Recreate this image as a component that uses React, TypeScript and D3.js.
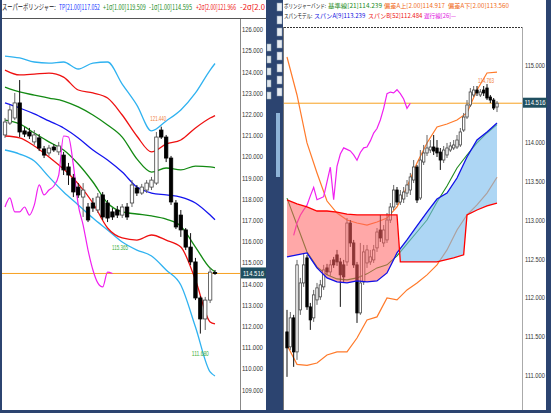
import React from 'react';
import * as d3 from 'd3';

const W = 551;
const H = 413;
const LAST_PRICE = 114.516;

// ---------- left chart: super bollinger ----------
const leftOpen = [121.05,121.61,121.85,122.56,121.24,121.19,120.72,120.91,120.39,120.20,120.48,120.25,120.10,119.54,119.02,118.59,118.12,117.65,117.84,117.51,118.22,117.84,117.42,117.51,117.27,117.65,117.84,118.55,118.31,118.45,118.59,118.78,121.28,120.95,119.96,117.84,117.27,116.57,115.76,115.06,113.36,112.37,113.26,114.56];
const leftHigh = [121.85,122.46,123.03,123.64,121.42,121.38,121.28,121.09,120.53,120.58,120.62,120.72,120.25,119.73,119.21,118.78,118.78,117.84,118.08,118.31,118.36,117.98,117.60,117.70,117.79,117.84,118.92,118.69,118.74,118.92,119.07,121.19,121.44,121.05,120.06,117.98,117.51,116.66,116.42,115.25,113.45,113.41,114.77,114.68];
const leftLow = [120.91,121.52,121.75,120.95,120.95,120.86,120.58,120.29,119.96,120.06,120.25,120.10,119.16,118.69,118.12,118.08,117.18,116.94,117.42,117.37,117.04,116.94,117.04,117.13,117.13,117.04,117.65,118.17,118.22,118.31,118.45,118.69,120.86,119.77,117.75,116.61,116.24,115.62,114.91,113.26,111.68,111.85,113.12,114.45];
const leftClose = [121.66,122.23,122.56,121.19,121.09,121.00,121.05,120.43,120.10,120.43,120.34,120.53,119.40,119.16,118.36,118.22,118.45,117.04,117.60,118.12,117.18,117.13,117.18,117.27,117.65,117.18,118.69,118.31,118.59,118.78,118.92,120.95,120.95,119.96,117.89,116.71,116.57,115.76,115.06,113.36,112.37,113.26,114.58,114.516];

const leftBandBars = [0,3,6,9,12,15,18,21,24,27,30,33,36,39,42,43];
const leftPlus3 = [124.77,124.68,124.49,124.44,124.49,124.16,124.44,124.49,123.45,122.46,121.24,121.71,122.23,123.03,124.11,124.42];
const leftPlus2 = [124.11,123.88,123.92,123.97,123.78,123.17,123.03,122.79,121.99,121.00,120.25,120.62,120.81,121.38,121.85,121.966];
const leftPlus1 = [123.31,123.08,122.93,122.79,122.65,122.37,121.99,121.52,120.95,119.92,119.30,119.49,119.40,119.58,119.54,119.509];
const leftMid = [122.56,122.32,122.04,121.71,121.38,120.91,120.34,119.87,119.30,118.59,118.31,118.22,118.12,117.84,117.27,117.052];
const leftMinus1 = [121.75,121.57,121.14,120.72,120.34,119.68,118.83,117.84,117.42,117.32,117.23,117.08,116.75,115.76,114.77,114.595];
const leftMinus2 = [121.00,120.91,120.53,120.01,119.44,118.74,117.84,116.66,116.19,116.09,116.33,116.09,115.76,114.21,112.23,112.138];
const leftMinus3 = [120.34,120.15,119.82,119.07,118.36,117.75,117.13,116.57,116.00,115.62,115.34,114.68,113.97,111.99,109.87,109.681];

// lagging line, one value per bar from bar 0
const leftLagging = [117.65,118.08,117.42,117.42,117.65,117.27,117.75,118.69,118.22,118.45,118.64,119.16,121.00,120.95,119.63,117.75,116.80,115.62,114.68,114.07,113.88,114.58,114.516];

const leftTicks = d3.range(109, 126.5, 1);

// ---------- right chart: bollinger + span model ----------
const rightOpen = [111.565,111.372,111.746,111.307,111.849,112.197,112.520,111.888,111.746,111.978,112.017,112.146,112.391,112.339,112.494,112.559,112.468,112.430,112.468,112.970,112.713,112.430,111.810,112.210,112.455,112.468,112.494,112.649,112.880,112.713,112.752,113.009,113.177,113.396,113.241,113.280,113.357,113.396,113.525,113.693,113.293,113.757,113.874,113.912,113.951,113.938,113.886,113.783,113.848,113.912,113.938,113.951,113.977,114.170,114.338,114.493,114.622,114.686,114.622,114.686,114.712,114.596,114.557,114.467];
const rightHigh = [111.849,111.822,111.785,112.494,112.262,112.584,112.559,111.939,112.107,112.197,112.236,112.430,112.443,112.494,112.533,112.623,112.520,112.494,113.035,113.009,112.752,112.468,112.713,112.687,112.687,112.623,112.687,112.906,113.074,112.944,113.099,113.228,113.461,113.435,113.396,113.435,113.525,113.616,113.783,113.719,113.912,113.977,114.106,114.041,114.106,114.041,113.938,113.964,114.003,114.015,114.041,114.106,114.196,114.390,114.557,114.712,114.738,114.738,114.699,114.738,114.763,114.622,114.583,114.544];
const rightLow = [110.985,111.333,111.114,111.204,111.785,112.146,111.849,111.591,111.694,111.914,111.978,112.107,112.301,112.288,112.391,112.417,111.888,112.210,112.417,112.662,112.391,111.681,111.785,112.172,112.391,112.430,112.455,112.597,112.726,112.662,112.713,112.970,113.138,113.203,113.203,113.228,113.306,113.332,113.486,113.228,113.267,113.719,113.835,113.874,113.848,113.822,113.655,113.745,113.809,113.886,113.912,113.925,113.951,114.145,114.312,114.467,114.596,114.609,114.596,114.609,114.557,114.518,114.428,114.402];
const rightClose = [111.359,111.746,111.307,112.430,112.197,112.430,111.888,111.720,112.043,112.133,112.172,112.365,112.339,112.430,112.430,112.468,112.301,112.275,112.970,112.713,112.430,111.810,112.197,112.597,112.623,112.533,112.623,112.854,112.777,112.880,113.009,113.177,113.396,113.241,113.332,113.370,113.461,113.564,113.693,113.267,113.783,113.874,113.938,113.951,113.899,113.874,113.783,113.912,113.938,113.964,113.977,114.041,114.145,114.338,114.493,114.661,114.686,114.648,114.661,114.648,114.583,114.557,114.454,114.516];

const rightLineBars = [0,3,6,9,12,15,18,21,24,27,30,33,36,39,42,45,48,51,54,57,60,63];
const rightUpper = [115.112,114.622,114.003,113.616,113.254,113.099,113.009,112.970,112.944,112.983,113.035,113.177,113.435,113.745,114.003,114.209,114.248,114.299,114.390,114.686,114.906,114.917];
const rightLower = [111.396,111.146,111.133,111.164,111.267,111.307,111.307,111.486,111.720,111.759,112.004,111.978,112.107,112.197,112.301,112.430,112.623,112.880,113.074,113.203,113.357,113.560];
const rightBase = [113.291,112.944,112.597,112.404,112.301,112.249,112.236,112.262,112.314,112.391,112.430,112.546,112.700,112.854,113.009,113.241,113.448,113.680,113.848,114.003,114.132,114.239];
const spanA = [112.532,112.559,112.584,112.391,112.262,112.210,112.197,112.223,112.210,112.223,112.326,112.584,112.752,112.932,113.112,113.280,113.357,113.551,113.822,114.041,114.145,114.261];
const spanBBars = [0,3,6,9,12,15,18,21,24,27,30,33,34,40,45,50,53,54,57,60,63];
const spanB = [113.268,113.216,113.177,113.125,113.125,113.112,113.086,113.074,113.074,113.074,113.074,113.074,112.468,112.468,112.468,112.520,112.559,113.074,113.138,113.190,113.228];

// lagging span, bars 2..37
const rightLagStart = 2;
const rightLagging = [112.81,112.97,113.07,113.14,113.20,113.32,113.43,113.27,113.29,113.31,113.50,113.69,113.27,113.70,113.86,113.94,113.92,113.90,113.85,113.78,113.88,113.94,113.95,114.03,114.13,114.19,114.30,114.45,114.64,114.66,114.65,114.69,114.64,114.57,114.45,114.516];

const rightTicks = d3.range(111, 115.01, 0.5);

const FONT = '"Liberation Sans", Arial, sans-serif';
const JFONT = '"Noto Sans CJK JP", "Noto Sans", sans-serif';
const fmt = d3.format('.3f');

type Seg = { t: string; x: number; len: number; c: string };
const leftHeader: Seg[] = [
  { t: 'スーパーボリンジャー:', x: 2, len: 54, c: '#111' },
  { t: 'TP[21.00]117.052', x: 59, len: 41, c: '#1030ff' },
  { t: '+1σ[1.00]119.509', x: 103, len: 43, c: '#1a8a1a' },
  { t: '-1σ[1.00]114.595', x: 149, len: 43, c: '#1a8a1a' },
  { t: '+2σ[2.00]121.966', x: 196, len: 40, c: '#ee1111' },
  { t: '-2σ[2.0', x: 240, len: 25, c: '#ee1111' },
];
const rightHeader1: Seg[] = [
  { t: 'ボリンジャーバンド:', x: 284, len: 42, c: '#111' },
  { t: '基準線[21]114.239', x: 328, len: 54, c: '#1a8a1a' },
  { t: '偏差A上[2.00]114.917', x: 384, len: 61, c: '#f06a20' },
  { t: '偏差A下[2.00]113.560', x: 448, len: 61, c: '#f06a20' },
];
const rightHeader2: Seg[] = [
  { t: 'スパンモデル:', x: 284, len: 28, c: '#111' },
  { t: 'スパンA[9]113.239', x: 314, len: 51, c: '#1010e0' },
  { t: 'スパンB[52]112.484', x: 368, len: 54, c: '#ee1111' },
  { t: '遅行線[26]—', x: 424, len: 32, c: '#e010e0' },
];

// width of a string at a given font, used to squeeze labels into their slot
let measureCtx: CanvasRenderingContext2D | null = null;
function naturalWidth(text: string, size: number, family: string) {
  if (!measureCtx) measureCtx = document.createElement('canvas').getContext('2d');
  if (!measureCtx) return text.length * size * 0.55;
  measureCtx.font = `${size}px ${family}`;
  return measureCtx.measureText(text).width || text.length * size * 0.55;
}

function FitText({ x, y, len, size, family, fill, anchor, middle, children }: any) {
  const w = naturalWidth(children, size, family);
  const s = len / w;
  const tx = anchor === 'middle' ? x - len / 2 : x;
  return (
    <text transform={`translate(${tx},${y}) scale(${s},1)`} fontSize={size} fontFamily={family}
      fill={fill} dy={middle ? '0.35em' : undefined}>{children}</text>
  );
}

function Candles({ o, h, l, c, sx, sy, bw }: any) {
  return (
    <g>
      {o.map((_: number, i: number) => {
        const up = c[i] >= o[i];
        const x = sx(i);
        const top = sy(Math.max(o[i], c[i]));
        const bot = sy(Math.min(o[i], c[i]));
        return (
          <g key={i}>
            <line x1={x} x2={x} y1={sy(h[i])} y2={sy(l[i])} stroke={up ? '#666' : '#111'} strokeWidth={1} />
            <rect x={x - bw / 2} y={top} width={bw} height={Math.max(1, bot - top)}
              fill={up ? '#fff' : '#000'} stroke={up ? '#444' : '#000'} strokeWidth={0.8} />
          </g>
        );
      })}
    </g>
  );
}

export default function App() {
  // left scales
  const lx = d3.scaleLinear().domain([0, 43]).range([5, 215]);
  const ly = d3.scaleLinear().domain([109, 126]).range([390.4, 30]);
  // right scales
  const rx = d3.scaleLinear().domain([0, 63]).range([287, 497]);
  const ry = d3.scaleLinear().domain([111, 115]).range([375.7, 65.7]);

  const lpath = (bars: number[], vals: number[]) =>
    d3.line<number>().x((_, i) => lx(bars[i])).y((d) => ly(d)).curve(d3.curveMonotoneX)(vals) || '';
  const rpath = (bars: number[], vals: number[]) =>
    d3.line<number>().x((_, i) => rx(bars[i])).y((d) => ry(d))(vals) || '';

  const leftBands: [number[], string][] = [
    [leftPlus3, '#2fb2f0'], [leftMinus3, '#2fb2f0'],
    [leftPlus2, '#ee1111'], [leftMinus2, '#ee1111'],
    [leftPlus1, '#138a13'], [leftMinus1, '#138a13'],
    [leftMid, '#1414ee'],
  ];

  const lagBars = leftLagging.map((_, i) => i);
  const rLagBars = rightLagging.map((_, i) => i + rightLagStart);

  // cloud between span A and span B
  const ptsA: [number, number][] = spanA.map((v, i) => [rx(rightLineBars[i]), ry(v)]);
  const ptsB: [number, number][] = spanB.map((v, i) => [rx(spanBBars[i]), ry(v)]);
  const lineGen = d3.line();
  const between = (lineGen(ptsA) || '') + (lineGen(ptsB.slice().reverse()) || '').replace(/^M/, 'L') + 'Z';
  const bLine = lineGen(ptsB) || '';
  const x0 = rx(0), x1 = rx(63);
  const aboveB = `${bLine}L${x1},20L${x0},20Z`;
  const belowB = `${bLine}L${x1},412L${x0},412Z`;

  const i32 = 32, i40 = 40, i60 = 60;

  return (
    <div style={{ position: 'fixed', left: 0, top: 0 }}>
      <svg width={W} height={H} viewBox={`0 0 ${W} ${H}`} style={{ display: 'block' }}>
        <defs>
          <clipPath id="leftPlot"><rect x={2} y={19} width={238} height={391} /></clipPath>
          <clipPath id="rightPlot"><rect x={284} y={28} width={238} height={382} /></clipPath>
          <clipPath id="aboveB"><path d={aboveB} /></clipPath>
          <clipPath id="belowB"><path d={belowB} /></clipPath>
        </defs>

        {/* window frame */}
        <rect x={0} y={0} width={W} height={H} fill="#2c4470" />
        <rect x={2} y={0} width={264} height={410} fill="#fff" />
        <rect x={283} y={0} width={263} height={410} fill="#fff" />

        {/* side gadgets */}
        {[44, 56, 68, 80, 92].map((y) => (
          <rect key={'lg' + y} x={267} y={y} width={4} height={7} fill="#dfe6ef" stroke="#9aa" strokeWidth={0.5} />
        ))}
        {[3, 16, 28, 40, 52, 64, 76, 88].map((y) => (
          <rect key={'rg' + y} x={277} y={y} width={5} height={8} fill="#e8edf3" stroke="#8899aa" strokeWidth={0.5} />
        ))}
        <rect x={276} y={113} width={4} height={64} fill="#8fb4d8" />

        {/* ---------- left panel ---------- */}
        <line x1={2} x2={266} y1={18.5} y2={18.5} stroke="#555" strokeWidth={1} />
        {leftHeader.map((s, i) => (
          <FitText key={i} x={s.x} y={9.5} len={s.len} size={7.5} family={JFONT} fill={s.c}>{s.t}</FitText>
        ))}
        <line x1={240.5} x2={240.5} y1={19} y2={410} stroke="#888" strokeWidth={1} />

        <g clipPath="url(#leftPlot)">
          <line x1={2} x2={240} y1={ly(LAST_PRICE)} y2={ly(LAST_PRICE)} stroke="#f7a020" strokeWidth={1} />
          {leftBands.map(([vals, col], i) => (
            <path key={i} d={lpath(leftBandBars, vals)} fill="none" stroke={col} strokeWidth={1.3} />
          ))}
          <path d={lpath(lagBars, leftLagging)} fill="none" stroke="#f020f0" strokeWidth={1.2} />
          <Candles o={leftOpen} h={leftHigh} l={leftLow} c={leftClose} sx={lx} sy={ly} bw={3.4} />
          <FitText x={lx(i32) - 3} y={ly(leftHigh[i32]) - 6} len={16} size={6.5} family={FONT} fill="#f08040"
            anchor="middle">{fmt(leftHigh[i32])}</FitText>
          <FitText x={lx(i40)} y={ly(leftLow[i40]) + 22} len={17} size={6.5} family={FONT} fill="#40b040"
            anchor="middle">{fmt(leftLow[i40])}</FitText>
          <FitText x={120} y={250} len={16} size={6.5} family={FONT} fill="#40b040" anchor="middle">115.365</FitText>
        </g>

        {leftTicks.map((t) => (
          <FitText key={t} x={242} y={ly(t)} len={21} size={6.5} family={FONT} fill="#333" middle>{fmt(t)}</FitText>
        ))}
        <rect x={241} y={ly(LAST_PRICE) - 6} width={25} height={11} fill="#1f4f60" />
        <FitText x={243} y={ly(LAST_PRICE)} len={21} size={6.5} family={FONT} fill="#fff" middle>{fmt(LAST_PRICE)}</FitText>

        {/* ---------- right panel ---------- */}
        {rightHeader1.map((s, i) => (
          <FitText key={'a' + i} x={s.x} y={8} len={s.len} size={6.2} family={JFONT} fill={s.c}>{s.t}</FitText>
        ))}
        {rightHeader2.map((s, i) => (
          <FitText key={'b' + i} x={s.x} y={17.5} len={s.len} size={6.2} family={JFONT} fill={s.c}>{s.t}</FitText>
        ))}
        <line x1={284} x2={522} y1={27.5} y2={27.5} stroke="#333" strokeWidth={1} strokeDasharray="2,1" />
        <line x1={283.5} x2={283.5} y1={27} y2={410} stroke="#777" strokeWidth={1} />
        <line x1={522.5} x2={522.5} y1={27} y2={410} stroke="#aaa" strokeWidth={1} />

        <g clipPath="url(#rightPlot)">
          <line x1={284} x2={522} y1={ry(LAST_PRICE)} y2={ry(LAST_PRICE)} stroke="#f7a020" strokeWidth={1} />
          <path d={rpath(rightLineBars, rightUpper)} fill="none" stroke="#ff7a2a" strokeWidth={1.2} />
          <path d={rpath(rightLineBars, rightLower)} fill="none" stroke="#ff7a2a" strokeWidth={1.2} />
          <path d={rpath(rightLineBars, rightBase)} fill="none" stroke="#1f8a1f" strokeWidth={1.1} />
          <path d={rpath(rLagBars, rightLagging)} fill="none" stroke="#f020f0" strokeWidth={1.2} />
          <Candles o={rightOpen} h={rightHigh} l={rightLow} c={rightClose} sx={rx} sy={ry} bw={2.4} />

          <path d={between} fill="rgb(119,186,237)" fillOpacity={0.6} clipPath="url(#aboveB)" />
          <path d={between} fill="rgb(255,97,97)" fillOpacity={0.55} clipPath="url(#belowB)" />
          <path d={rpath(rightLineBars, spanA)} fill="none" stroke="#1010e8" strokeWidth={1.3} />
          <path d={bLine} fill="none" stroke="#ff0000" strokeWidth={1.3} />

          <FitText x={rx(i60) - 1} y={ry(rightHigh[i60]) - 1.5} len={16} size={6.5} family={FONT} fill="#f08040"
            anchor="middle">{fmt(rightHigh[i60])}</FitText>
        </g>

        {rightTicks.map((t) => (
          <FitText key={t} x={525} y={ry(t)} len={20} size={6.5} family={FONT} fill="#333" middle>{fmt(t)}</FitText>
        ))}
        <rect x={523} y={ry(LAST_PRICE) - 5.5} width={24} height={10} fill="#1f4f60" />
        <FitText x={524.5} y={ry(LAST_PRICE)} len={21} size={6.5} family={FONT} fill="#fff" middle>{fmt(LAST_PRICE)}</FitText>
      </svg>
    </div>
  );
}
